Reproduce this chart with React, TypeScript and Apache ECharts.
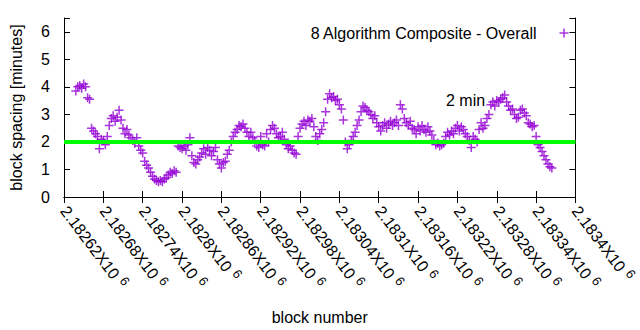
import React, { useEffect, useRef } from "react";
import * as echarts from "echarts";

// x axis: block numbers
const xMin = 2182620;
const xMax = 2183400;
const xInterval = 60;
// y axis: minutes
const yMin = 0;
const yMax = 6.5;
const yInterval = 1;

// one reading every `blockStep` blocks, starting at `blockStart`
const blockStart = 2182638;
const blockStep = 3;
const spacingMinutes = [
  3.85, 4.0, 4.05, 3.95, 4.1, 4.0, 3.6, 3.55, 2.5, 2.4,
  2.3, 2.2, 1.75, 2.1, 2.05, 1.9, 2.2, 2.6, 2.85, 2.95,
  2.75, 2.9, 3.15, 2.8, 2.5, 2.3, 2.45, 2.25, 2.15, 2.05,
  1.95, 2.15, 1.85, 1.7, 1.6, 1.3, 1.15, 1.05, 0.9, 0.75,
  0.65, 0.6, 0.55, 0.6, 0.55, 0.65, 0.7, 0.8, 0.9, 0.85,
  0.95, 0.9, 1.85, 1.8, 1.75, 1.85, 1.7, 1.9, 2.15, 1.5,
  1.25, 1.2, 1.35, 1.45, 1.6, 1.75, 1.55, 1.8, 1.7, 1.5,
  1.65, 1.8, 1.35, 1.2, 1.05, 1.25, 1.3, 1.55, 1.7, 2.0,
  2.2, 2.35, 2.45, 2.6, 2.55, 2.65, 2.5, 2.35, 2.2, 2.35,
  2.15, 2.05, 1.85, 1.8, 2.2, 1.9, 1.85, 2.3, 2.0, 2.45,
  2.6, 2.5, 2.3, 2.15, 2.2, 2.35, 2.1, 1.9, 1.75, 1.85,
  1.7, 1.6, 1.55, 2.2, 2.5, 2.65, 2.75, 2.6, 2.8, 2.75,
  2.85, 2.55, 2.2, 2.05, 2.3, 2.45, 2.7, 3.1, 3.55, 3.75,
  3.6, 3.65, 3.5, 3.55, 3.35, 3.2, 2.8, 2.0, 1.75, 1.9,
  2.05, 2.2, 2.35, 2.6, 2.8, 3.1, 3.3, 3.25, 3.15, 3.1,
  3.0, 2.85, 2.95, 2.7, 2.55, 2.4, 2.6, 2.7, 2.5, 2.65,
  2.75, 2.6, 2.7, 2.8, 2.6, 3.35, 3.2, 2.85, 2.7, 2.6,
  2.75, 2.5, 2.45, 2.3, 2.55, 2.4, 2.6, 2.45, 2.35, 2.55,
  2.4, 2.25, 2.05, 1.9, 1.95, 1.85, 1.9, 1.95, 2.2, 2.35,
  2.25, 2.4, 2.3, 2.5, 2.6, 2.4, 2.55, 2.45, 2.3, 2.2,
  2.05, 1.8, 2.2, 2.1, 2.0, 2.45, 2.7, 2.5, 2.6, 2.85,
  3.0, 3.35, 3.45, 3.3, 3.5, 3.45, 3.55, 3.6, 3.7, 3.45,
  3.3, 3.15, 3.2, 3.0, 2.85, 2.9, 3.15, 3.2, 3.05, 2.95,
  2.7, 2.65, 2.55, 2.6, 2.2, 1.9, 1.8, 1.65, 1.5, 1.35,
  1.2, 1.1, 1.05,
];
const targetMinutes = 2;

const seriesName = "8 Algorithm Composite - Overall";
const targetLabel = "2 min";

const FONT = "Liberation Sans, Arial, sans-serif";
const PURPLE = "#9400d3";
const GREEN = "#00ff00";
const PLUS = "path://M4.5,0V9M0,4.5H9";

export default function App() {
  const ref = useRef<HTMLDivElement>(null);
  useEffect(() => {
    document.body.style.margin = "0";
    if (!ref.current) return;
    const chart = echarts.init(ref.current, null, { renderer: "svg" });
    const points = spacingMinutes.map((v, i) => [blockStart + i * blockStep, v]);
    const fmtX = (v: number) =>
      parseFloat((v / 1e6).toFixed(5)).toString() + "X10{sup|6}";
    const axisCommon = {
      axisLine: { show: true, lineStyle: { color: "#000", width: 1 } },
      axisTick: { show: true, inside: true, length: 6, lineStyle: { color: "#000" } },
      splitLine: { show: false },
    };
    chart.setOption({
      animation: false,
      backgroundColor: "#fff",
      textStyle: { fontFamily: FONT },
      grid: { left: 64, right: 31, top: 18, bottom: 133, containLabel: false },
      legend: {
        show: true,
        top: 20,
        right: 64,
        align: "right",
        icon: PLUS,
        itemWidth: 9,
        itemHeight: 9,
        itemStyle: { color: "none", borderColor: PURPLE, borderWidth: 1.5 },
        textStyle: { fontFamily: FONT, fontSize: 16, color: "#000", padding: [0, 18, 0, 0] },
        data: [{ name: seriesName }],
      },
      xAxis: [
        {
          type: "value",
          min: xMin,
          max: xMax,
          interval: xInterval,
          position: "bottom",
          ...axisCommon,
          name: "block number",
          nameLocation: "middle",
          nameGap: 112,
          nameTextStyle: { fontFamily: FONT, fontSize: 16, color: "#000" },
          axisLabel: {
            show: true,
            rotate: -53,
            margin: 11,
            fontFamily: FONT,
            fontSize: 16,
            color: "#000",
            formatter: fmtX,
            showMaxLabel: true,
            hideOverlap: false,
            rich: {
              sup: { fontSize: 13, padding: [0, 0, 9, 5], fontFamily: FONT, color: "#000" },
            },
          },
        },
        {
          type: "value",
          min: xMin,
          max: xMax,
          interval: xInterval,
          position: "top",
          ...axisCommon,
          axisLabel: { show: false },
        },
      ],
      yAxis: [
        {
          type: "value",
          min: yMin,
          max: yMax,
          interval: yInterval,
          position: "left",
          ...axisCommon,
          name: "block spacing [minutes]",
          nameLocation: "middle",
          nameGap: 40,
          nameRotate: 90,
          nameTextStyle: { fontFamily: FONT, fontSize: 16, color: "#000" },
          axisLabel: {
            show: true,
            margin: 14,
            fontFamily: FONT,
            fontSize: 16,
            color: "#000",
            formatter: (v: number) => (Number.isInteger(v) ? String(v) : ""),
          },
        },
        {
          type: "value",
          min: yMin,
          max: yMax,
          interval: yInterval,
          position: "right",
          ...axisCommon,
          axisLabel: { show: false },
        },
      ],
      series: [
        {
          name: seriesName,
          type: "scatter",
          symbol: PLUS,
          symbolSize: 9,
          itemStyle: { color: "none", borderColor: PURPLE, borderWidth: 1.5 },
          data: points,
          z: 2,
        },
        {
          name: targetLabel,
          type: "line",
          data: [
            [xMin, targetMinutes],
            [xMax, targetMinutes],
          ],
          showSymbol: false,
          symbol: "none",
          lineStyle: { color: GREEN, width: 4 },
          z: 3,
        },
      ],
      graphic: [
        {
          type: "text",
          left: 446,
          top: 92,
          style: { text: targetLabel, fontFamily: FONT, fontSize: 16, fill: "#000" },
        },
      ],
    });
    return () => chart.dispose();
  }, []);
  return <div ref={ref} style={{ width: 640, height: 330 }} />;
}
